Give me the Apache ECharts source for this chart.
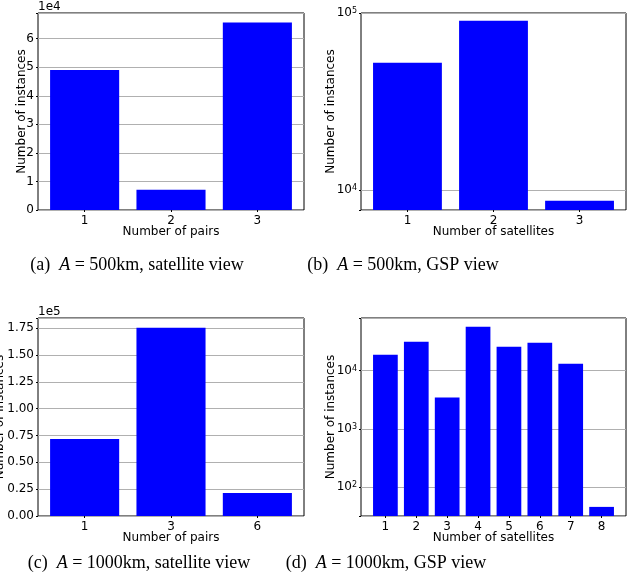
<!DOCTYPE html>
<html>
<head>
<meta charset="utf-8">
<script src="https://cdn.jsdelivr.net/npm/echarts@6/dist/echarts.min.js"></script>
<style>
html, body { margin: 0; padding: 0; background: #fff; }
#container { width: 633px; height: 587px; }
</style>
</head>
<body>
<div id="container"></div>
<script>
// panel data
var pairsA = ['1', '2', '3'];
var countsA = [49000, 7100, 65700];

var satsB = ['1', '2', '3'];
var countsB = [52400, 90500, 8700];

var pairsC = ['1', '3', '6'];
var countsC = [71900, 175600, 21500];

var satsD = ['1', '2', '3', '4', '5', '6', '7', '8'];
var countsD = [18800, 31500, 3460, 57100, 25900, 30300, 13200, 46];

var captions = [
    '(a)  {i|A} = 500km, satellite view',
    '(b)  {i|A} = 500km, GSP view',
    '(c)  {i|A} = 1000km, satellite view',
    '(d)  {i|A} = 1000km, GSP view'
];

window.onload = function()
{
var myChart = echarts.init(document.getElementById('container'));
var font = 'DejaVu Sans';
var fs = 12;

var grids = [
    {left: 38, top: 13, width: 266, height: 197},
    {left: 361, top: 13, width: 265, height: 197},
    {left: 38, top: 318, width: 266, height: 198},
    {left: 361, top: 318, width: 265, height: 198}
];

// matplotlib style x limits: bars 0.8 wide plus 5% margin
function xlim(n) {
    var m = 0.05 * (n - 1 + 0.8);
    return [-0.4 - m, n - 1 + 0.4 + m];
}

function xAxis(idx, labels, name) {
    var lim = xlim(labels.length);
    var ticks = labels.map(function (l, i) { return i; });
    return {
        gridIndex: idx, type: 'value', min: lim[0], max: lim[1],
        name: name, nameLocation: 'middle', nameGap: 16, nameMoveOverlap: false,
        nameTextStyle: {fontFamily: font, fontSize: fs, color: '#000'},
        axisLine: {show: false, onZero: false},
        axisTick: {show: true, length: 2, lineStyle: {color: '#000'}, customValues: ticks},
        axisLabel: {
            fontFamily: font, fontSize: fs, color: '#000', margin: 5,
            customValues: ticks,
            formatter: function (v) { return labels[Math.round(v)]; }
        },
        splitLine: {show: false}
    };
}

var supRich = {
    sup: {fontFamily: font, fontSize: 8, color: '#000', verticalAlign: 'top', lineHeight: 8}
};

function logLabel(v) {
    var e = Math.log10(v);
    if (Math.abs(e - Math.round(e)) < 1e-6) return '10{sup|' + Math.round(e) + '}';
    return '';
}

var baseY = {
    nameLocation: 'middle', name: 'Number of instances', nameRotate: 90, nameMoveOverlap: false,
    nameTextStyle: {fontFamily: font, fontSize: fs, color: '#000'},
    axisLine: {show: false, onZero: false},
    axisTick: {show: true, length: 2, lineStyle: {color: '#000'}},
    splitLine: {show: true, lineStyle: {color: '#b0b0b0', width: 1}}
};

var yAxes = [
    Object.assign({}, baseY, {
        gridIndex: 0, type: 'value', min: 0, max: 69000, interval: 10000, nameGap: 10,
        axisLabel: {fontFamily: font, fontSize: fs, color: '#000', margin: 4,
            formatter: function (v) { return v % 10000 === 0 ? String(v / 10000) : ''; }}
    }),
    Object.assign({}, baseY, {
        gridIndex: 1, type: 'log', min: 7710, max: 100000, nameGap: 24,
        axisLabel: {fontFamily: font, fontSize: fs, color: '#000', margin: 4,
            formatter: logLabel, rich: supRich}
    }),
    Object.assign({}, baseY, {
        gridIndex: 2, type: 'value', min: 0, max: 184600, interval: 25000, nameGap: 32,
        axisLabel: {fontFamily: font, fontSize: fs, color: '#000', margin: 4,
            formatter: function (v) { return v % 25000 === 0 ? (v / 100000).toFixed(2) : ''; }}
    }),
    Object.assign({}, baseY, {
        gridIndex: 3, type: 'log', min: 32.1, max: 80400, nameGap: 24,
        axisLabel: {fontFamily: font, fontSize: fs, color: '#000', margin: 4,
            formatter: logLabel, rich: supRich}
    })
];

function bars(idx, values) {
    return {
        type: 'bar', xAxisIndex: idx, yAxisIndex: idx,
        barWidth: '80%', clip: true,
        itemStyle: {color: '#0000ff'},
        data: values.map(function (v, i) { return [i, v]; })
    };
}

var capPos = [[137, 265], [403, 265], [139, 563], [386, 563]];
var graphics = captions.map(function (c, i) {
    return {
        type: 'text', x: capPos[i][0], y: capPos[i][1],
        style: {
            text: c, fontFamily: 'Liberation Serif', fontSize: 18, fill: '#000',
            align: 'center', verticalAlign: 'middle',
            rich: {i: {fontFamily: 'Liberation Serif', fontStyle: 'italic', fontSize: 18}}
        }
    };
});
graphics.push({type: 'text', x: 38, y: 1, style: {text: '1e4', fontFamily: font, fontSize: fs, fill: '#000'}});
graphics.push({type: 'text', x: 38, y: 306, style: {text: '1e5', fontFamily: font, fontSize: fs, fill: '#000'}});

var option = {
    animation: false,
    backgroundColor: '#fff',
    grid: grids.map(function (g) {
        return Object.assign({show: true, borderColor: '#000', borderWidth: 1,
            backgroundColor: 'transparent', outerBoundsMode: 'none'}, g);
    }),
    xAxis: [
        xAxis(0, pairsA, 'Number of pairs'),
        xAxis(1, satsB, 'Number of satellites'),
        xAxis(2, pairsC, 'Number of pairs'),
        xAxis(3, satsD, 'Number of satellites')
    ],
    yAxis: yAxes,
    series: [
        bars(0, countsA),
        bars(1, countsB),
        bars(2, countsC),
        bars(3, countsD)
    ],
    graphic: graphics
};

myChart.setOption(option);
};
</script>
</body>
</html>
